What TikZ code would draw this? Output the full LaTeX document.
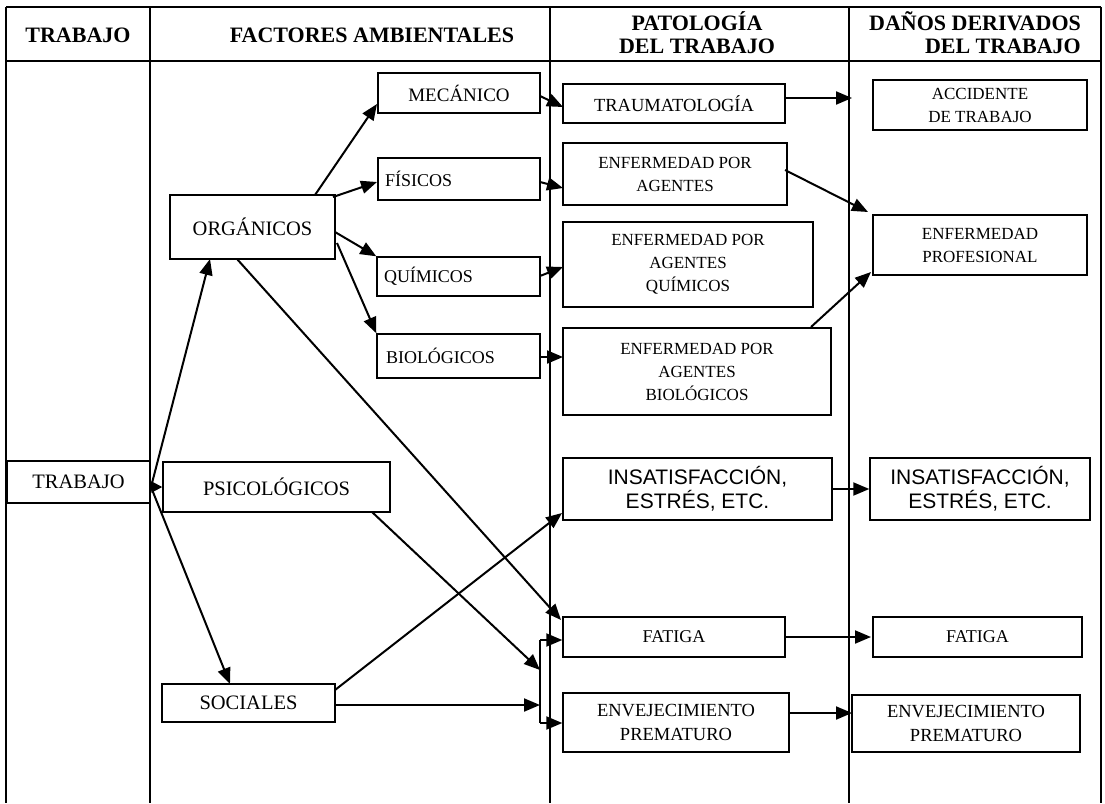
\documentclass[tikz,border=0pt]{standalone}
\usepackage{fontspec}
\setmainfont{Liberation Serif}
\newfontfamily\arialfont{Liberation Sans}
\usetikzlibrary{arrows.meta}

\begin{document}
\begin{tikzpicture}[x=1pt,y=-1pt,
  frame/.style={line width=1.2pt},
  box/.style={draw, line width=1.4pt, inner sep=0pt, align=center,
              font=\fontsize{20.5}{24}\selectfont},
  leftbox/.style={box, align=left, inner xsep=7pt,
              font=\fontsize{18}{21}\selectfont},
  pathbox/.style={box, font=\fontsize{17}{23}\selectfont},
  sansbox/.style={box, font=\arialfont\fontsize{21}{24}\selectfont},
  head/.style={inner sep=0pt, align=center,
               font=\bfseries\fontsize{22}{23}\selectfont},
  arr/.style={-{Triangle[length=16pt,width=13pt]}, line width=2pt},
  shortarr/.style={-{Triangle[length=11pt,width=11pt]}, line width=2pt},
  bar/.style={line width=2pt}]

\useasboundingbox (0,0) rectangle (1105,803);

% table frame: header row and four columns open at the bottom
\draw[frame] (6,7) -- (1101,7);
\draw[frame] (6,61) -- (1101,61);
\foreach \xc in {6,150,550,849,1101}
  \draw[frame] (\xc,7) -- (\xc,803);

% column headings
\node[head] (hTrab) at (78,35) {TRABAJO};
\node[head] (hFact) at (372,35) {FACTORES AMBIENTALES};
\node[head] (hPat)  at (697,33) {PATOLOGÍA\\DEL TRABAJO};
\node[head, align=right] (hDan) at (975,33) {DAÑOS DERIVADOS\\DEL TRABAJO};

% first column
\node[box, minimum width=143pt, minimum height=42pt] (trab) at (78.5,482) {TRABAJO};

% environmental factors
\node[box, minimum width=165pt, minimum height=64pt] (org) at (252.5,227) {ORGÁNICOS};
\node[box, minimum width=227pt, minimum height=50pt] (psi) at (276.5,487) {PSICOLÓGICOS};
\node[box, minimum width=173pt, minimum height=38pt] (soc) at (248.5,703) {SOCIALES};
\node[box, font=\fontsize{19}{22}\selectfont, minimum width=162pt, minimum height=40pt] (mec) at (459,93) {MECÁNICO};
\node[leftbox, text width=148pt, minimum height=42pt] (fis) at (459,179) {FÍSICOS};
\node[leftbox, text width=149pt, minimum height=39pt] (qui) at (458.5,276.5) {QUÍMICOS};
\node[leftbox, text width=149pt, minimum height=44pt] (bio) at (458.5,356) {\hspace*{2pt}BIOLÓGICOS};

% pathology of work
\node[box, font=\fontsize{18.5}{22}\selectfont, minimum width=222pt, minimum height=39pt] (trau) at (674,103.5) {TRAUMATOLOGÍA};
\node[pathbox, minimum width=224pt, minimum height=62pt] (efis) at (675,174) {ENFERMEDAD POR\\AGENTES};
\node[pathbox, minimum width=250pt, minimum height=85pt] (equi) at (688,264.5) {ENFERMEDAD POR\\AGENTES\\QUÍMICOS};
\node[pathbox, minimum width=268pt, minimum height=87pt] (ebio) at (697,371.5) {ENFERMEDAD POR\\AGENTES\\BIOLÓGICOS};
\node[sansbox, minimum width=269pt, minimum height=62pt] (ins) at (697.5,489) {INSATISFACCIÓN,\\ESTRÉS, ETC.};
\node[box, font=\fontsize{18}{22}\selectfont, minimum width=222pt, minimum height=40pt] (fat) at (674,637) {FATIGA};
\node[box, font=\fontsize{18.5}{24}\selectfont, minimum width=226pt, minimum height=59pt] (env) at (676,722.5) {ENVEJECIMIENTO\\PREMATURO};

% resulting damage
\node[pathbox, minimum width=214pt, minimum height=50pt] (acc) at (980,105) {ACCIDENTE\\DE TRABAJO};
\node[pathbox, minimum width=214pt, minimum height=60pt] (prof) at (980,245) {ENFERMEDAD\\PROFESIONAL};
\node[sansbox, minimum width=220pt, minimum height=62pt] (ins2) at (980,489) {INSATISFACCIÓN,\\ESTRÉS, ETC.};
\node[box, font=\fontsize{18}{22}\selectfont, minimum width=209pt, minimum height=40pt] (fat2) at (977.5,637) {FATIGA};
\node[box, font=\fontsize{18.5}{24}\selectfont, minimum width=228pt, minimum height=57pt] (env2) at (966,723.5) {ENVEJECIMIENTO\\PREMATURO};

% junction points
\coordinate (tj) at (151,487);
\coordinate (bt) at (540,640);
\coordinate (bb) at (540,723);
\coordinate (bpsi) at (540,670);
\coordinate (bsoc) at (540,705);

% from work to the factors
\draw[shortarr] (149,487) -- (psi.west);
\draw[arr] (tj) -- (210,259);
\draw[arr] (tj) -- (230,684);

% organic factors
\draw[arr] (315,195) -- (377,104);
\draw[arr] (333,197) -- (377,182);
\draw[arr] (335,232) -- (qui.north west);
\draw[arr] (337,243) -- (bio.north west);
\draw[arr] (237,259) -- (561,620);

% factors to pathology
\draw[arr] (540,96) -- (563,107);
\draw[arr] (540,182) -- (563,188);
\draw[arr] (540,276) -- (563,267);
\draw[arr] (540,357) -- (563,357);
\draw[arr] (335,690) -- (562,513);
\draw[arr] (372,512) -- (bpsi);
\draw[arr] (soc.east |- bsoc) -- (bsoc);

% bracket gathering psychological and social factors
\draw[bar] (bt) -- (bb);
\draw[arr] (bt) -- (fat.west |- bt);
\draw[arr] (bb) -- (env.west |- bb);

% pathology to damage
\draw[arr] (785,98) -- (852,98);
\draw[arr] (785,170) -- (868,212);
\draw[arr] (811,327) -- (871,272);
\draw[arr] (ins.east) -- (ins2.west);
\draw[arr] (fat.east) -- (871,637);
\draw[arr] (789,713) -- (852,713);
\end{tikzpicture}
\end{document}
